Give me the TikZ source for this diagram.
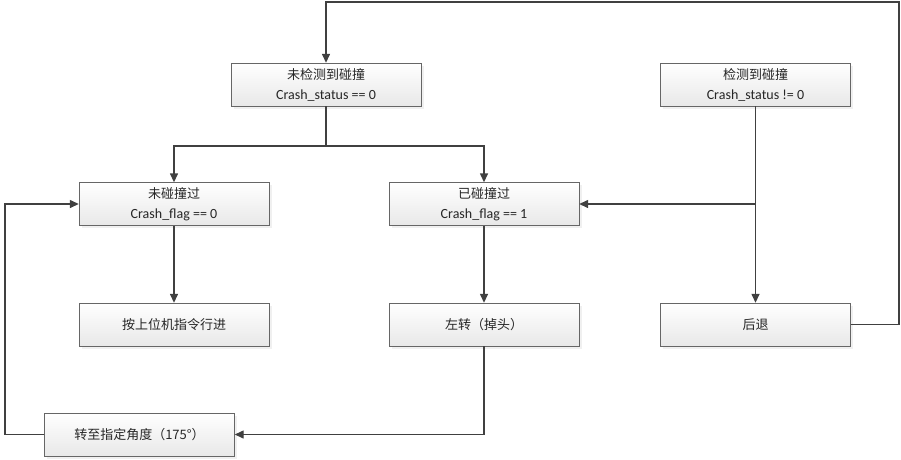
\documentclass[tikz,border=0pt]{standalone}
\usepackage{fontspec}
\setmainfont{Carlito}
\newfontfamily\cjk{Noto Sans CJK SC}
\usetikzlibrary{arrows.meta}
\usetikzlibrary{shadows}

\begin{document}
\begin{tikzpicture}[x=1pt, y=-1pt,
  box/.style={draw=black!60, top color=white, bottom color=black!9, minimum width=190pt, minimum height=43pt, align=center, inner sep=0pt, text=black!85, font=\fontsize{14}{20}\selectfont, drop shadow={shadow xshift=2.5pt, shadow yshift=-2.5pt, opacity=0.12}},
  line/.style={draw=black!75, line width=1.4pt},
  link/.style={line, -{Triangle[length=9pt,width=8pt]}}]
\useasboundingbox (0,0) rectangle (901,459);
%%% Draws boxes
% status row
\node[box] (nocrash) at (326,84.5) {{\cjk\fontsize{13}{20}\selectfont 未检测到碰撞}\\Crash\_status == 0};
\node[box] (crash) at (755.5,84.5) {{\cjk\fontsize{13}{20}\selectfont 检测到碰撞}\\Crash\_status != 0};
% flag row
\node[box] (noflag) at (174,204) {{\cjk\fontsize{13}{20}\selectfont 未碰撞过}\\Crash\_flag == 0};
\node[box] (flag) at (484,204) {{\cjk\fontsize{13}{20}\selectfont 已碰撞过}\\Crash\_flag == 1};
% action row
\node[box] (forward) at (174,324.5) {\cjk\fontsize{13}{20}\selectfont 按上位机指令行进};
\node[box] (turnleft) at (484,324.5) {\cjk\fontsize{13}{20}\selectfont 左转（掉头）};
\node[box] (back) at (755.5,324.5) {\cjk\fontsize{13}{20}\selectfont 后退};
\node[box] (turnangle) at (139.5,434.5) {\cjk\fontsize{13}{20}\selectfont 转至指定角度（175°）};
%%% Draws connectors
% bend points
\coordinate (split) at (326,146);
\coordinate (looptop) at (899,2);
\coordinate (loopleft) at (5,434.5);
% no crash detected
\draw[line] (nocrash.south) -- (split);
\draw[link] (split) -| (noflag.north);
\draw[link] (split) -| (flag.north);
% crash detected
\draw[link] (crash.south) -- (back.north);
\draw[link] (crash.south |- flag.east) -- (flag.east);
% actions
\draw[link] (noflag.south) -- (forward.north);
\draw[link] (flag.south) -- (turnleft.north);
\draw[link] (turnleft.south) |- (turnangle.east);
\draw[link] (turnangle.west) -- (loopleft) |- (noflag.west);
\draw[link] (back.east) -| (looptop) -| (nocrash.north);
\end{tikzpicture}
\end{document}
